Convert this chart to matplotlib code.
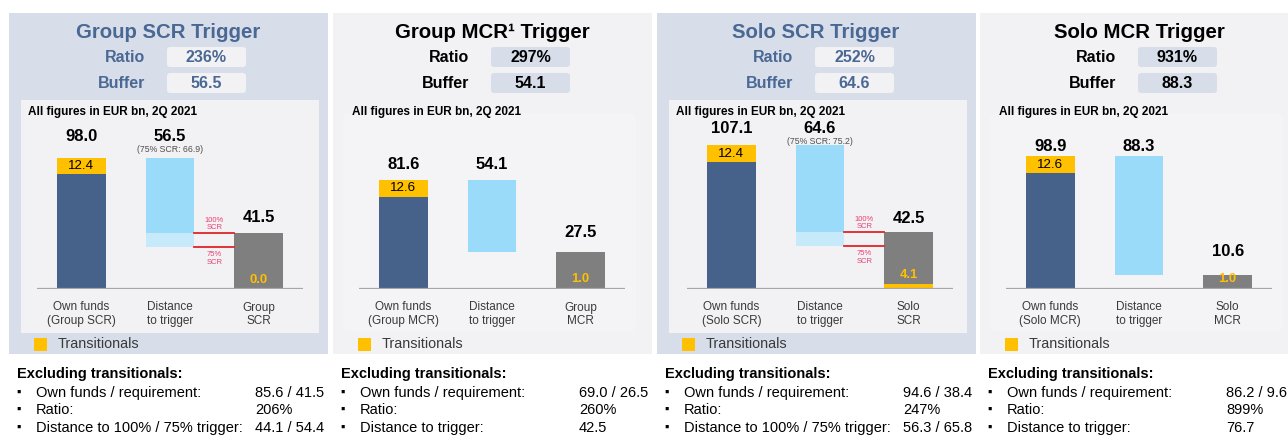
import matplotlib
matplotlib.use("Agg")
import matplotlib.pyplot as plt
from matplotlib.patches import Rectangle, FancyBboxPatch

plt.rcParams['font.family'] = ['Liberation Sans', 'DejaVu Sans']

# ---------------- data ----------------
titles = ["Group SCR Trigger", "Group MCR\u00b9 Trigger", "Solo SCR Trigger", "Solo MCR Trigger"]
ratios = ["236%", "297%", "252%", "931%"]
buffers = ["56.5", "54.1", "64.6", "88.3"]
own_funds = [98.0, 81.6, 107.1, 98.9]
own_transitionals = [12.4, 12.6, 12.4, 12.6]
requirements = [41.5, 27.5, 42.5, 10.6]
req_transitionals = [0.0, 1.0, 4.1, 1.0]
distances = [56.5, 54.1, 64.6, 88.3]
distances_75 = [66.9, None, 75.2, None]
category_labels = [
    ["Own funds\n(Group SCR)", "Distance\nto trigger", "Group\nSCR"],
    ["Own funds\n(Group MCR)", "Distance\nto trigger", "Group\nMCR"],
    ["Own funds\n(Solo SCR)", "Distance\nto trigger", "Solo\nSCR"],
    ["Own funds\n(Solo MCR)", "Distance\nto trigger", "Solo\nMCR"],
]
excl_own_req = ["85.6 / 41.5", "69.0 / 26.5", "94.6 / 38.4", "86.2 / 9.6"]
excl_ratio = ["206%", "260%", "247%", "899%"]
excl_distance = ["44.1 / 54.4", "42.5", "56.3 / 65.8", "76.7"]
excl_distance_label = ["Distance to 100% / 75% trigger:", "Distance to trigger:",
                       "Distance to 100% / 75% trigger:", "Distance to trigger:"]

# ---------------- style ----------------
W, H = 1288, 437
BLUE_BG = "#D7DEEA"
GREY_BG = "#F2F1F3"
INNER = "#F2F1F3"
TITLE_BLUE = "#4A6894"
DARK_BAR = "#46618A"
YELLOW = "#FFC000"
LIGHT_BAR = "#99DBF8"
LIGHTER_BAR = "#C6EAFA"
GREY_BAR = "#7F7F7F"
RED_LINE = "#E0252B"
RED_TEXT = "#EA4070"
TXT = "#3A3A3A"

panel_left = [9, 333, 657, 980]
panel_width = [319, 319, 319, 308]
panel_blue = [True, False, True, False]
chart_left = [37, 359, 687, 1006]
chart_width = 266
baseline_px = 289
px_per_unit = 1.34
ymax = 112
label_gap = [(21, 21, 16), (15, 15, 20), (17, 17, 14), (10, 10, 23)]

fig = plt.figure(figsize=(W / 100, H / 100), dpi=100)
bg = fig.add_axes([0, 0, 1, 1])
bg.set_xlim(0, W)
bg.set_ylim(H, 0)
bg.axis('off')


def px2pt(px):
    return px * 0.72


for p in range(4):
    L = panel_left[p]
    pw = panel_width[p]
    blue = panel_blue[p]
    bgc = BLUE_BG if blue else GREY_BG
    tcol = TITLE_BLUE if blue else "black"
    boxc = INNER if blue else BLUE_BG

    bg.add_patch(Rectangle((L, 13), pw, 341, facecolor=bgc, edgecolor='none', zorder=0))
    if blue:
        bg.add_patch(Rectangle((L + 12, 100), 298, 233, facecolor=INNER, edgecolor='none', zorder=1))
    else:
        bg.add_patch(FancyBboxPatch((L + 10, 113), 293, 218, boxstyle="round,pad=0,rounding_size=6",
                                    facecolor="#F4F3F5", edgecolor='none', zorder=1))

    # title
    bg.text(L + 159, 32, titles[p], ha='center', va='center', fontsize=14.7,
            fontweight='bold', color=tcol, zorder=3)
    # ratio / buffer
    for yy, lab, val in [(57, "Ratio", ratios[p]), (83, "Buffer", buffers[p])]:
        bg.text(L + 136, yy, lab, ha='right', va='center', fontsize=11.5,
                fontweight='bold', color=tcol, zorder=3)
        bg.add_patch(FancyBboxPatch((L + 158, yy - 10), 79, 20,
                                    boxstyle="round,pad=0,rounding_size=3",
                                    facecolor=boxc, edgecolor='none', zorder=2))
        bg.text(L + 197.5, yy, val, ha='center', va='center', fontsize=11.5,
                fontweight='bold', color=tcol, zorder=3)

    bg.text(L + 19, 112, "All figures in EUR bn, 2Q 2021", ha='left', va='center',
            fontsize=8.5, fontweight='bold', color='black', zorder=3)

    # legend
    bg.add_patch(Rectangle((L + 25, 338), 13, 13, facecolor=YELLOW, edgecolor='none', zorder=3))
    bg.text(L + 49, 344.5, "Transitionals", ha='left', va='center', fontsize=10.4,
            color=TXT, zorder=3)

    # bottom text
    bg.text(L + 8, 374, "Excluding transitionals:", ha='left', va='center',
            fontsize=10.5, fontweight='bold', color='black', zorder=3)
    rows = [("Own funds / requirement:", excl_own_req[p]),
            ("Ratio:", excl_ratio[p]),
            (excl_distance_label[p], excl_distance[p])]
    for k, (lab, val) in enumerate(rows):
        yy = [393, 410, 428][k]
        bg.text(L + 10, yy, "\u25aa", ha='center', va='center', fontsize=9,
                color='black', zorder=3)
        bg.text(L + 27, yy, lab, ha='left', va='center', fontsize=10.5,
                color='black', zorder=3)
        bg.text(L + 246, yy, val, ha='left', va='center', fontsize=10.5,
                color='black', zorder=3)

    # ---------------- chart ----------------
    ax = fig.add_axes([chart_left[p] / W, (H - baseline_px) / H, chart_width / W,
                       ymax * px_per_unit / H])
    ax.set_zorder(5)
    ax.patch.set_alpha(0)
    ax.set_xlim(-0.5, 2.5)
    ax.set_ylim(0, ymax)
    for s in ax.spines.values():
        s.set_visible(False)
    ax.set_yticks([])
    ax.set_xticks(range(3))
    ax.set_xticklabels(category_labels[p], fontsize=8.5, color=TXT, linespacing=1.2)
    ax.tick_params(axis='x', length=0, pad=9)
    ax.axhline(0, color="#A6A6A6", lw=1.6, zorder=4)

    bw = 0.55
    of = own_funds[p]
    ot = own_transitionals[p]
    rq = requirements[p]
    rt = req_transitionals[p]
    d = distances[p]
    d75 = distances_75[p]

    # own funds
    ax.bar(0, of - ot, bw, color=DARK_BAR, zorder=3)
    ax.bar(0, ot, bw, bottom=of - ot, color=YELLOW, zorder=3)
    ax.text(0, of - ot / 2, f"{ot:.1f}", ha='center', va='center', fontsize=9.6,
            color='black', zorder=6)
    # distance
    if d75 is not None:
        low = of - d75
        ax.bar(1, rq - low, bw, bottom=low, color=LIGHTER_BAR, zorder=3)
    ax.bar(1, d, bw, bottom=rq, color=LIGHT_BAR, zorder=3)
    # requirement
    ax.bar(2, rq - rt, bw, bottom=rt, color=GREY_BAR, zorder=3)
    if rt > 0:
        ax.bar(2, rt, bw, color=YELLOW, zorder=3)
    ax.annotate(f"{rt:.1f}", (2, rt), xytext=(0, px2pt(9)), textcoords='offset points',
                ha='center', va='center', fontsize=9.4, fontweight='bold', color=YELLOW,
                zorder=6)

    g0, g1, g2 = label_gap[p]
    ax.annotate(f"{of:.1f}", (0, of), xytext=(0, px2pt(g0)), textcoords='offset points',
                ha='center', va='center', fontsize=12, fontweight='bold', zorder=6)
    ax.annotate(f"{d:.1f}", (1, of), xytext=(0, px2pt(g1)), textcoords='offset points',
                ha='center', va='center', fontsize=12, fontweight='bold', zorder=6)
    ax.annotate(f"{rq:.1f}", (2, rq), xytext=(0, px2pt(g2)), textcoords='offset points',
                ha='center', va='center', fontsize=12, fontweight='bold', zorder=6)

    if d75 is not None:
        ax.annotate(f"(75% SCR: {d75:.1f})", (1, of), xytext=(0, px2pt(g1 - 13)),
                    textcoords='offset points', ha='center', va='center',
                    fontsize=6.3, color="#505050", zorder=6)
        low = of - d75
        for yv in (rq, low):
            ax.plot([1 + bw / 2, 2 - bw / 2], [yv, yv], color=RED_LINE, lw=1.3, zorder=4)
        ax.annotate("100%\nSCR", (1.5, rq), xytext=(0, px2pt(2)), textcoords='offset points',
                    ha='center', va='bottom', fontsize=5.5, color=RED_TEXT,
                    linespacing=1.1, zorder=6)
        ax.annotate("75%\nSCR", (1.5, low), xytext=(0, -px2pt(4)), textcoords='offset points',
                    ha='center', va='top', fontsize=5.5, color=RED_TEXT,
                    linespacing=1.1, zorder=6)

fig.savefig("out.png", dpi=100)
